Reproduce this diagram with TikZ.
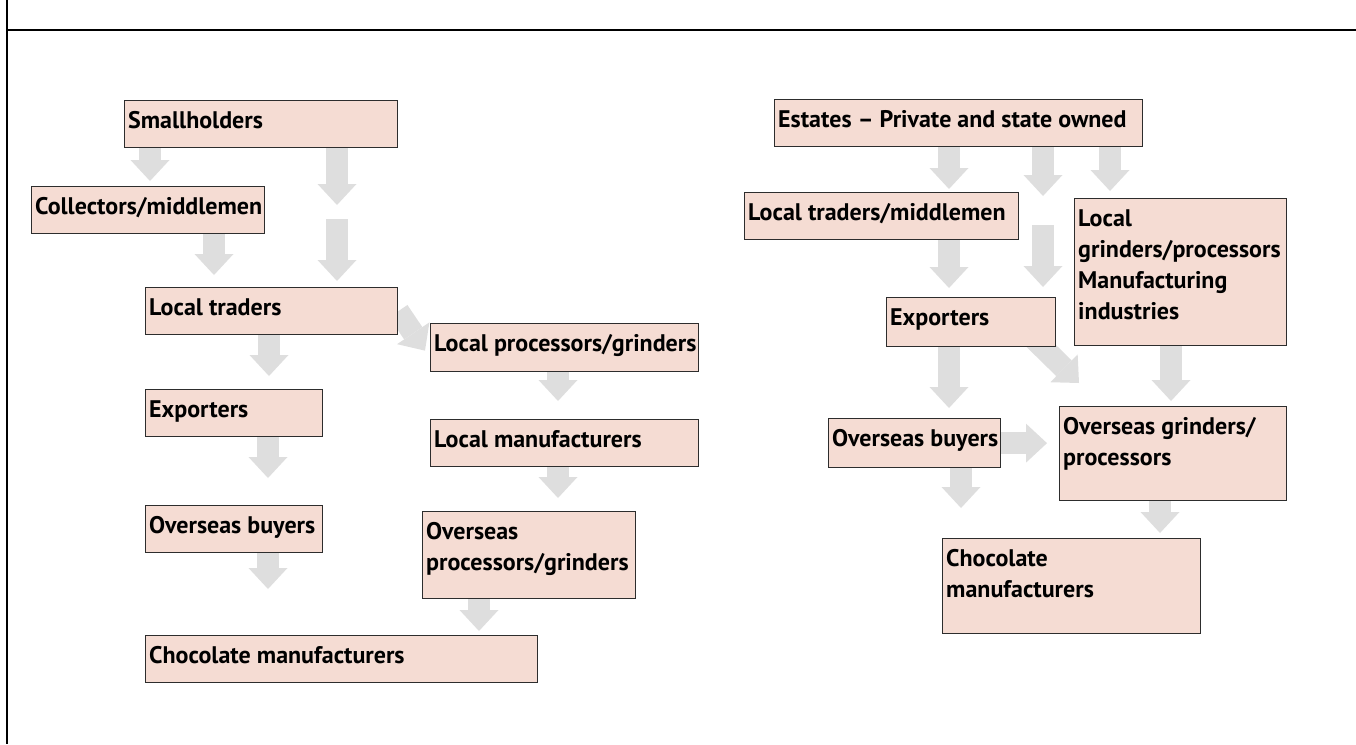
\documentclass[tikz,border=0pt]{standalone}
\usepackage{fontspec}
\setmainfont{PT Sans}
\usetikzlibrary{arrows.meta, calc, backgrounds}
\definecolor{boxpink}{RGB}{245,220,211}
\definecolor{arrowgray}{RGB}{222,222,222}
\definecolor{boxline}{RGB}{45,45,45}
\tikzset{
  flowbox/.style={draw=boxline, line width=1.3pt, fill=boxpink, anchor=north west, inner sep=0pt},
  boxtext/.style={anchor=north west, align=left, inner xsep=4pt, inner ysep=11.5pt,
    font=\fontsize{24}{31}\selectfont\bfseries},
  flowarrow/.style={draw=arrowgray, line width=22pt, -{Triangle[width=39pt, length=21pt, line width=0pt]}}
}
\begin{document}
\begin{tikzpicture}[x=1pt, y=-1pt]
    \useasboundingbox (0,0) rectangle (1356,744);
    \draw[line width=1.5pt] (7,0) -- (7,744);
    \draw[line width=1.5pt] (7,30) -- (1356,30);

    \node[flowbox, minimum width=273pt, minimum height=47pt, label={[boxtext]north west:Smallholders}] (small) at (124,100) {};
    \node[flowbox, minimum width=233pt, minimum height=47pt, label={[boxtext]north west:Collectors/middlemen}] (coll) at (31,186) {};
    \node[flowbox, minimum width=252pt, minimum height=47pt, label={[boxtext]north west:Local traders}] (trad) at (145,287) {};
    \node[flowbox, minimum width=268pt, minimum height=48pt, label={[boxtext]north west:Local processors/grinders}] (lproc) at (430,323) {};
    \node[flowbox, minimum width=268pt, minimum height=47pt, label={[boxtext]north west:Local manufacturers}] (lmanu) at (430,419) {};
    \node[flowbox, minimum width=177pt, minimum height=47pt, label={[boxtext]north west:Exporters}] (exp) at (145,389) {};
    \node[flowbox, minimum width=177pt, minimum height=47pt, label={[boxtext]north west:Overseas buyers}] (obuy) at (145,505) {};
    \node[flowbox, minimum width=213pt, minimum height=87pt, label={[boxtext]north west:Overseas\\processors/grinders}] (oproc) at (422,511) {};
    \node[flowbox, minimum width=392pt, minimum height=47pt, label={[boxtext]north west:Chocolate manufacturers}] (choc) at (145,635) {};

    \node[flowbox, minimum width=368pt, minimum height=47pt, label={[boxtext]north west:Estates -- Private and state owned}] (est) at (774,99) {};
    \node[flowbox, minimum width=274pt, minimum height=47pt, label={[boxtext]north west:Local traders/middlemen}] (ltrad) at (744,192) {};
    \node[flowbox, minimum width=212pt, minimum height=147pt, label={[boxtext]north west:Local\\grinders/processors\\Manufacturing\\industries}] (lgrind) at (1074,198) {};
    \node[flowbox, minimum width=169pt, minimum height=49pt, label={[boxtext]north west:Exporters}] (rexp) at (886,297) {};
    \node[flowbox, minimum width=172pt, minimum height=49pt, label={[boxtext]north west:Overseas buyers}] (robuy) at (828,418) {};
    \node[flowbox, minimum width=227pt, minimum height=94pt, label={[boxtext]north west:Overseas grinders/\\processors}] (ogrind) at (1059,406) {};
    \node[flowbox, minimum width=258pt, minimum height=95pt, label={[boxtext]north west:Chocolate\\manufacturers}] (rchoc) at (942,538) {};

    \coordinate (smallgap) at (337,205);
    \coordinate (tradgap) at (337,219);
    \coordinate (estgap) at (1043,196);
    \coordinate (expgap) at (1043,225);

    \begin{scope}[on background layer]
    \draw[flowarrow] ([xshift=26pt]small.south west) -- ([xshift=119pt, yshift=5pt]coll.north west);
    \draw[flowarrow] ([xshift=213pt]small.south west) -- (smallgap);
    \draw[flowarrow] (tradgap) -- ([xshift=192pt, yshift=6pt]trad.north west);
    \draw[flowarrow] ([xshift=183pt]coll.south west) -- ([xshift=69pt, yshift=12pt]trad.north west);
    \draw[flowarrow] ([xshift=124pt]trad.south west) -- ([xshift=124pt, yshift=13pt]exp.north west);
    \draw[flowarrow] (trad.east) -- ([xshift=-5pt, yshift=-3pt]lproc.west);
    \draw[flowarrow] ([xshift=128pt]lproc.south west) -- ([xshift=128pt, yshift=18pt]lmanu.north west);
    \draw[flowarrow] ([xshift=128pt]lmanu.south west) -- ([xshift=136pt, yshift=13pt]oproc.north west);
    \draw[flowarrow] ([xshift=57pt]oproc.south west) -- ([xshift=334pt, yshift=4pt]choc.north west);
    \draw[flowarrow] ([xshift=123pt]exp.south west) -- ([xshift=123pt, yshift=27pt]obuy.north west);
    \draw[flowarrow] ([xshift=123pt]obuy.south west) -- ([xshift=123pt, yshift=46pt]choc.north west);

    \draw[flowarrow] ([xshift=175pt]est.south west) -- ([xshift=205pt, yshift=3pt]ltrad.north west);
    \draw[flowarrow] ([xshift=269pt]est.south west) -- (estgap);
    \draw[flowarrow] (expgap) -- ([xshift=157pt, yshift=10pt]rexp.north west);
    \draw[flowarrow] ([xshift=336pt]est.south west) -- ([xshift=36pt, yshift=7pt]lgrind.north west);
    \draw[flowarrow] ([xshift=205pt]ltrad.south west) -- ([xshift=63pt, yshift=9pt]rexp.north west);
    \draw[flowarrow] ([xshift=63pt]rexp.south west) -- ([xshift=121pt, yshift=10pt]robuy.north west);
    \draw[flowarrow] ([xshift=-28pt, yshift=14pt]rexp.south east) -- ([xshift=20pt, yshift=23pt]ogrind.north west);
    \draw[flowarrow] ([xshift=97pt]lgrind.south west) -- ([xshift=112pt, yshift=5pt]ogrind.north west);
    \draw[flowarrow] (robuy.east) -- ($(robuy.east -| ogrind.west)+(-12,0)$);
    \draw[flowarrow] ([xshift=133pt]robuy.south west) -- ([xshift=19pt, yshift=30pt]rchoc.north west);
    \draw[flowarrow] ([xshift=101pt]ogrind.south west) -- ([xshift=218pt, yshift=5pt]rchoc.north west);
    \end{scope}
\end{tikzpicture}
\end{document}
